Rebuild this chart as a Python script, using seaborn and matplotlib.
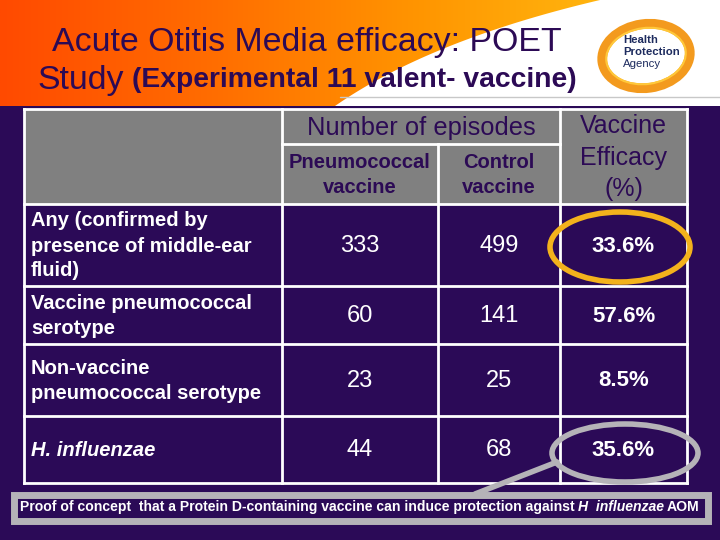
import numpy as np
import pandas as pd
import matplotlib.pyplot as plt
import seaborn as sns
from matplotlib.patches import Rectangle, Ellipse, Polygon
from matplotlib.colors import LinearSegmentedColormap

# 表格数据
row_labels = ["Any (confirmed by\npresence of middle-ear\nfluid)",
              "Vaccine pneumococcal\nserotype",
              "Non-vaccine\npneumococcal serotype",
              "H. influenzae"]
pneumo_episodes = [333, 60, 23, 44]
control_episodes = [499, 141, 25, 68]
efficacy_pct = [33.6, 57.6, 8.5, 35.6]
group_header = "Number of episodes"
sub_headers = ["Pneumococcal\nvaccine", "Control\nvaccine"]
efficacy_header = "Vaccine\nEfficacy\n(%)"

BG = "#2b0a57"
DARK = "#2c0a55"
HEAD_GRAY = "#808080"
CALLOUT = "#b5b3b8"


def draw_run(fig, ax, x, y, parts, gap=4, **kw):
    """依次排列不同样式的文字"""
    renderer = fig.canvas.get_renderer()
    for s, props in parts:
        t = ax.text(x, y, s, **kw, **props)
        x += t.get_window_extent(renderer).width + gap
    return x


def draw_banner(ax):
    """顶部橙色渐变横幅"""
    cmap = LinearSegmentedColormap.from_list(
        "banner", ["#ff4a00", "#ff6c00", "#ff9400", "#ffb810"])
    grad = np.linspace(0, 1, 256).reshape(1, -1)
    ax.imshow(grad, cmap=cmap, extent=[0, 620, 106, 0], aspect="auto", zorder=1)
    # 右侧白色弧形区域
    t = np.linspace(0, 1, 60)
    p0, p1, p2 = np.array([600, 0]), np.array([430, 40]), np.array([335, 106])
    curve = ((1 - t) ** 2)[:, None] * p0 + (2 * (1 - t) * t)[:, None] * p1 + (t ** 2)[:, None] * p2
    pts = np.vstack([curve, [[720, 106], [720, 0]]])
    ax.add_patch(Polygon(pts, closed=True, facecolor="white", edgecolor="none", zorder=2))
    ax.plot([340, 720], [97, 97], color="#c8c8c8", lw=1, zorder=3)


def draw_logo(ax):
    """Health Protection Agency 标志"""
    ax.add_patch(Ellipse((646, 56), 88, 64, angle=-8, facecolor="none",
                         edgecolor="#f39a1e", lw=7, zorder=4))
    ax.add_patch(Ellipse((646, 56), 80, 56, angle=-8, facecolor="none",
                         edgecolor="#ffc83a", lw=1.5, zorder=4))
    ax.text(623, 40, "Health", fontsize=8.2, fontweight="bold", color="#1d2b5e", va="center", zorder=5)
    ax.text(623, 52, "Protection", fontsize=8.2, fontweight="bold", color="#1d2b5e", va="center", zorder=5)
    ax.text(623, 64, "Agency", fontsize=8.2, color="#1d2b5e", va="center", zorder=5)


def draw_table(ax, data):
    """绘制表格"""
    col_edges = [24, 282, 438, 560, 687]
    row_edges = [204, 286, 344, 416, 483]
    head_top, head_mid = 109, 144

    # 表头灰色底
    ax.add_patch(Rectangle((col_edges[0], head_top), col_edges[-1] - col_edges[0],
                           row_edges[0] - head_top, facecolor=HEAD_GRAY, edgecolor="none", zorder=2))

    # 网格线
    kw = dict(color="white", lw=2, zorder=3, solid_capstyle="projecting")
    ax.plot([col_edges[0], col_edges[-1]], [head_top, head_top], **kw)
    for y in row_edges:
        ax.plot([col_edges[0], col_edges[-1]], [y, y], **kw)
    ax.plot([col_edges[1], col_edges[3]], [head_mid, head_mid], **kw)
    for x in (col_edges[0], col_edges[1], col_edges[3], col_edges[-1]):
        ax.plot([x, x], [head_top, row_edges[-1]], **kw)
    ax.plot([col_edges[2], col_edges[2]], [head_mid, row_edges[-1]], **kw)

    cx = [(col_edges[i] + col_edges[i + 1]) / 2 for i in range(4)]

    # 表头文字
    ax.text((col_edges[1] + col_edges[3]) / 2, (head_top + head_mid) / 2 + 2, group_header,
            fontsize=18.4, color=DARK, ha="center", va="center", zorder=4)
    for i, s in enumerate(sub_headers):
        ax.text(cx[i + 1], (head_mid + row_edges[0]) / 2 + 1, s, fontsize=14.5,
                fontweight="bold", color=DARK, ha="center", va="center",
                linespacing=1.4, zorder=4)
    ax.text(cx[3], (head_top + row_edges[0]) / 2 + 1, efficacy_header, fontsize=18,
            color=DARK, ha="center", va="center", linespacing=1.38, zorder=4)

    # 表体
    for i, row in data.iterrows():
        yc = (row_edges[i] + row_edges[i + 1]) / 2
        style = "italic" if row["label"].startswith("H.") else "normal"
        ax.text(31, yc + 1, row["label"], fontsize=14.5, fontweight="bold", fontstyle=style,
                color="white", ha="left", va="center", linespacing=1.4, zorder=4)
        ax.text(cx[1], yc + 1, f"{row['pneumo']}", fontsize=17, color="white",
                ha="center", va="center", zorder=4)
        ax.text(cx[2], yc + 1, f"{row['control']}", fontsize=17, color="white",
                ha="center", va="center", zorder=4)
        ax.text(cx[3], yc + 1, f"{row['efficacy']}%", fontsize=16, fontweight="bold",
                color="white", ha="center", va="center", zorder=4)

    # 高亮圈
    ax.add_patch(Ellipse((620, 247), 140, 70, facecolor="none", edgecolor="#f3b21c", lw=4, zorder=5))
    ax.add_patch(Ellipse((625, 453), 146, 58, facecolor="none", edgecolor=CALLOUT, lw=4, zorder=5))
    ax.plot([557, 475], [462, 494], color=CALLOUT, lw=4, zorder=5)


def main():
    sns.set_theme(style="white")
    plt.rcParams['font.family'] = ['Liberation Sans', 'DejaVu Sans']

    data = pd.DataFrame({
        "label": row_labels,
        "pneumo": pneumo_episodes,
        "control": control_episodes,
        "efficacy": efficacy_pct,
    })

    fig = plt.figure(figsize=(7.2, 5.4), dpi=100, facecolor=BG)
    ax = fig.add_axes([0, 0, 1, 1])
    ax.set_xlim(0, 720)
    ax.set_ylim(540, 0)
    ax.axis("off")
    ax.set_facecolor(BG)

    draw_banner(ax)
    draw_logo(ax)

    # 标题
    ax.text(307, 42, "Acute Otitis Media efficacy: POET", fontsize=24.4, color=DARK,
            ha="center", va="center", zorder=6)
    draw_run(fig, ax, 37, 80, [("Study", dict(fontsize=24.4)),
                               ("(Experimental 11 valent- vaccine)", dict(fontsize=20.3, fontweight="bold"))],
             gap=8, color=DARK, va="center", zorder=6)

    draw_table(ax, data)

    # 底部说明框
    ax.add_patch(Rectangle((14, 495), 694, 26, facecolor=BG, edgecolor=CALLOUT, lw=5, zorder=4))
    draw_run(fig, ax, 20, 507, [("Proof of concept  that a Protein D-containing vaccine can induce protection against", {}),
                                ("H  influenzae", dict(fontstyle="italic")),
                                ("AOM", {})],
             gap=3, fontsize=10.1, fontweight="bold", color="white", va="center", zorder=6)

    fig.savefig("out.png", dpi=100, facecolor=BG)


if __name__ == "__main__":
    main()
